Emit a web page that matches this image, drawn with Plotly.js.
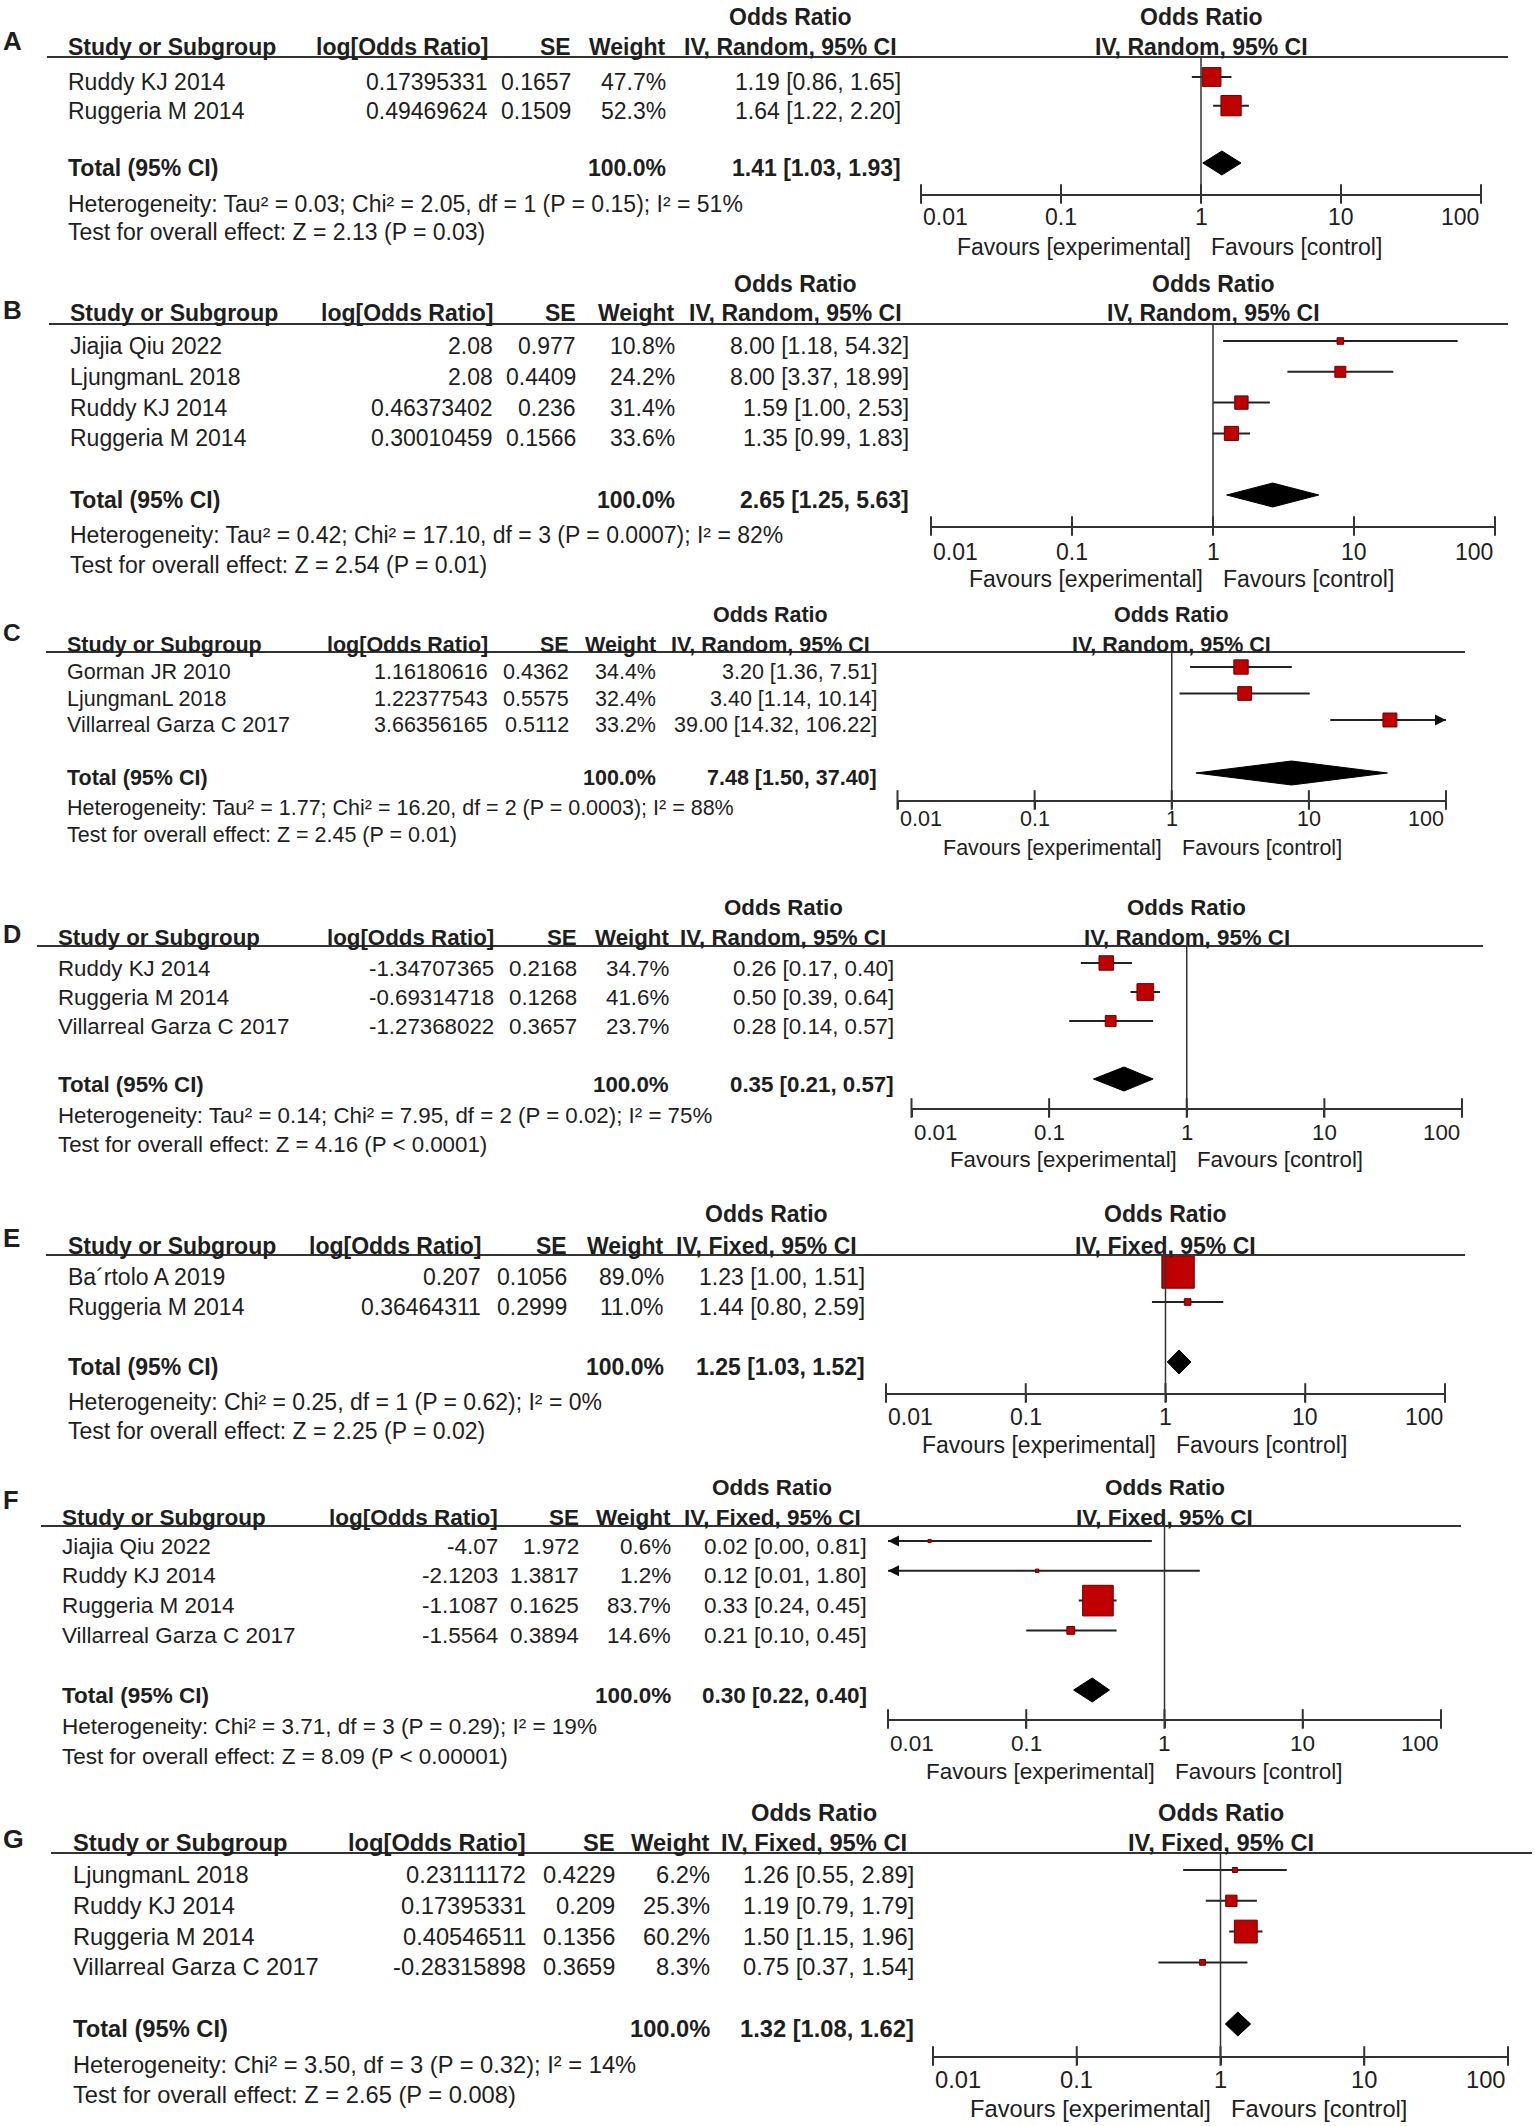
<!DOCTYPE html>
<html>
<head>
<meta charset="utf-8">
<script src="https://cdn.plot.ly/plotly-3.0.1.min.js"></script>
<style>html,body{margin:0;padding:0;background:#fff}</style>
</head>
<body>
<div id="chart" style="width:1535px;height:2126px"></div>
<script>
// ---------------- DATA ----------------
const tickVals = [0.01, 0.1, 1, 10, 100];
const tickText = ['0.01', '0.1', '1', '10', '100'];

// Panel A
const studiesA = ['Ruddy KJ 2014', 'Ruggeria M 2014'];
const logOrA = [0.17395331, 0.49469624];
const seA = [0.1657, 0.1509];
const weightA = [47.7, 52.3];
const orA = [1.19, 1.64];
const loA = [0.86, 1.22];
const hiA = [1.65, 2.20];
const totalA = [1.41, 1.03, 1.93];
const totalWeightA = 100.0;
const hetA = 'Heterogeneity: Tau² = 0.03; Chi² = 2.05, df = 1 (P = 0.15); I² = 51%';
const testA = 'Test for overall effect: Z = 2.13 (P = 0.03)';

// Panel B
const studiesB = ['Jiajia Qiu 2022', 'LjungmanL 2018', 'Ruddy KJ 2014', 'Ruggeria M 2014'];
const logOrB = [2.08, 2.08, 0.46373402, 0.30010459];
const seB = [0.977, 0.4409, 0.236, 0.1566];
const weightB = [10.8, 24.2, 31.4, 33.6];
const orB = [8.00, 8.00, 1.59, 1.35];
const loB = [1.18, 3.37, 1.00, 0.99];
const hiB = [54.32, 18.99, 2.53, 1.83];
const totalB = [2.65, 1.25, 5.63];
const totalWeightB = 100.0;
const hetB = 'Heterogeneity: Tau² = 0.42; Chi² = 17.10, df = 3 (P = 0.0007); I² = 82%';
const testB = 'Test for overall effect: Z = 2.54 (P = 0.01)';

// Panel C
const studiesC = ['Gorman JR 2010', 'LjungmanL 2018', 'Villarreal Garza C 2017'];
const logOrC = [1.16180616, 1.22377543, 3.66356165];
const seC = [0.4362, 0.5575, 0.5112];
const weightC = [34.4, 32.4, 33.2];
const orC = [3.20, 3.40, 39.00];
const loC = [1.36, 1.14, 14.32];
const hiC = [7.51, 10.14, 106.22];
const totalC = [7.48, 1.50, 37.40];
const totalWeightC = 100.0;
const hetC = 'Heterogeneity: Tau² = 1.77; Chi² = 16.20, df = 2 (P = 0.0003); I² = 88%';
const testC = 'Test for overall effect: Z = 2.45 (P = 0.01)';

// Panel D
const studiesD = ['Ruddy KJ 2014', 'Ruggeria M 2014', 'Villarreal Garza C 2017'];
const logOrD = [-1.34707365, -0.69314718, -1.27368022];
const seD = [0.2168, 0.1268, 0.3657];
const weightD = [34.7, 41.6, 23.7];
const orD = [0.26, 0.50, 0.28];
const loD = [0.17, 0.39, 0.14];
const hiD = [0.40, 0.64, 0.57];
const totalD = [0.35, 0.21, 0.57];
const totalWeightD = 100.0;
const hetD = 'Heterogeneity: Tau² = 0.14; Chi² = 7.95, df = 2 (P = 0.02); I² = 75%';
const testD = 'Test for overall effect: Z = 4.16 (P < 0.0001)';

// Panel E
const studiesE = ['Ba´rtolo A 2019', 'Ruggeria M 2014'];
const logOrE = [0.207, 0.36464311];
const seE = [0.1056, 0.2999];
const weightE = [89.0, 11.0];
const orE = [1.23, 1.44];
const loE = [1.00, 0.80];
const hiE = [1.51, 2.59];
const totalE = [1.25, 1.03, 1.52];
const totalWeightE = 100.0;
const hetE = 'Heterogeneity: Chi² = 0.25, df = 1 (P = 0.62); I² = 0%';
const testE = 'Test for overall effect: Z = 2.25 (P = 0.02)';

// Panel F
const studiesF = ['Jiajia Qiu 2022', 'Ruddy KJ 2014', 'Ruggeria M 2014', 'Villarreal Garza C 2017'];
const logOrF = [-4.07, -2.1203, -1.1087, -1.5564];
const seF = [1.972, 1.3817, 0.1625, 0.3894];
const weightF = [0.6, 1.2, 83.7, 14.6];
const orF = [0.02, 0.12, 0.33, 0.21];
const loF = [0.00, 0.01, 0.24, 0.10];
const hiF = [0.81, 1.80, 0.45, 0.45];
const totalF = [0.30, 0.22, 0.40];
const totalWeightF = 100.0;
const hetF = 'Heterogeneity: Chi² = 3.71, df = 3 (P = 0.29); I² = 19%';
const testF = 'Test for overall effect: Z = 8.09 (P < 0.00001)';

// Panel G
const studiesG = ['LjungmanL 2018', 'Ruddy KJ 2014', 'Ruggeria M 2014', 'Villarreal Garza C 2017'];
const logOrG = [0.23111172, 0.17395331, 0.40546511, -0.28315898];
const seG = [0.4229, 0.209, 0.1356, 0.3659];
const weightG = [6.2, 25.3, 60.2, 8.3];
const orG = [1.26, 1.19, 1.50, 0.75];
const loG = [0.55, 0.79, 1.15, 0.37];
const hiG = [2.89, 1.79, 1.96, 1.54];
const totalG = [1.32, 1.08, 1.62];
const totalWeightG = 100.0;
const hetG = 'Heterogeneity: Chi² = 3.50, df = 3 (P = 0.32); I² = 14%';
const testG = 'Test for overall effect: Z = 2.65 (P = 0.008)';

const panels = [
  {key:'A', model:'Random', names:studiesA, logOr:logOrA, se:seA, w:weightA, or:orA, lo:loA, hi:hiA, total:totalA, tw:totalWeightA, het:hetA, test:testA},
  {key:'B', model:'Random', names:studiesB, logOr:logOrB, se:seB, w:weightB, or:orB, lo:loB, hi:hiB, total:totalB, tw:totalWeightB, het:hetB, test:testB},
  {key:'C', model:'Random', names:studiesC, logOr:logOrC, se:seC, w:weightC, or:orC, lo:loC, hi:hiC, total:totalC, tw:totalWeightC, het:hetC, test:testC},
  {key:'D', model:'Random', names:studiesD, logOr:logOrD, se:seD, w:weightD, or:orD, lo:loD, hi:hiD, total:totalD, tw:totalWeightD, het:hetD, test:testD},
  {key:'E', model:'Fixed', names:studiesE, logOr:logOrE, se:seE, w:weightE, or:orE, lo:loE, hi:hiE, total:totalE, tw:totalWeightE, het:hetE, test:testE},
  {key:'F', model:'Fixed', names:studiesF, logOr:logOrF, se:seF, w:weightF, or:orF, lo:loF, hi:hiF, total:totalF, tw:totalWeightF, het:hetF, test:testF},
  {key:'G', model:'Fixed', names:studiesG, logOr:logOrG, se:seG, w:weightG, or:orG, lo:loG, hi:hiG, total:totalG, tw:totalWeightG, het:hetG, test:testG}
];

// ---------------- LAYOUT (pixel geometry) ----------------
const W = 1535, H = 2126;
const FONT = 'Liberation Sans, Arial, Helvetica, sans-serif';
const TXT = '#1e1e1e';
const LINE = '#333';
// c = [study left, logOR right, SE right, weight right, CI right, OR header centre]
const geo = {
  A:{letter:41,  orTop:17,   hdr:47,   line:57,   lx:[47,1508], row0:77,   tot:163,  axis:194,  het:204,  test:232,  tk:217,  fav:247,  x0:921,   x1:1481, c:[66,490,573,668,903,790], fs:23},
  B:{letter:310, orTop:284,  hdr:313,  line:324,  lx:[49,1508], row0:341,  tot:495,  axis:526,  het:535,  test:565,  tk:552,  fav:579,  x0:931,   x1:1495, c:[68,495,578,677,911,795], fs:23},
  C:{letter:632, orTop:615,  hdr:645,  line:652,  lx:[46,1465], row0:667,  tot:773,  axis:800,  het:808,  test:835,  tk:819,  fav:848,  x0:897.5, x1:1446, c:[65,490,571,658,879,770], fs:21.5},
  D:{letter:934, orTop:907,  hdr:937,  line:946,  lx:[37,1483], row0:963,  tot:1079, axis:1108, het:1115, test:1144, tk:1132, fav:1159, x0:911.5, x1:1462, c:[56,496,579,671,896,783], fs:22.3},
  E:{letter:1238,orTop:1214, hdr:1246, line:1255, lx:[46,1465], row0:1272, tot:1362, axis:1393, het:1402, test:1431, tk:1417, fav:1445, x0:886,   x1:1445, c:[66,483,569,666,867,766], fs:23},
  F:{letter:1500,orTop:1487, hdr:1517, line:1526, lx:[41,1461], row0:1541, tot:1690, axis:1719, het:1726, test:1756, tk:1743, fav:1771, x0:888,   x1:1441, c:[60,500,581,673,869,772], fs:22.5},
  G:{letter:1839,orTop:1813, hdr:1843, line:1853, lx:[51,1532], row0:1870, tot:2024, axis:2056, het:2065, test:2095, tk:2080, fav:2109, x0:933,   x1:1508, c:[71,528,617,712,916,814], fs:23.7}
};

const px = v => v / W;
const py = v => 1 - v / H;
const fmt2 = v => v.toFixed(2);
const ciText = (o, l, h) => fmt2(o) + ' [' + fmt2(l) + ', ' + fmt2(h) + ']';

const data = [];
const annotations = [];
const shapes = [];
const layout = {
  width: W, height: H,
  margin: {l:0, r:0, t:0, b:0},
  paper_bgcolor: '#ffffff',
  plot_bgcolor: 'rgba(0,0,0,0)',
  showlegend: false,
  font: {family: FONT, color: TXT},
  annotations: annotations,
  shapes: shapes
};

function ann(text, x, y, fs, extra) {
  annotations.push(Object.assign({
    text: text, x: x, y: y, xref: 'paper', yref: 'paper',
    showarrow: false, xanchor: 'left', yanchor: 'middle',
    font: {family: FONT, size: fs, color: TXT}
  }, extra || {}));
}

panels.forEach((p, k) => {
  const g = geo[p.key];
  const idx = k === 0 ? '' : String(k + 1);
  const xa = 'x' + idx, ya = 'y' + idx;
  const n = p.names.length;
  const s = (g.tot - g.row0) / (n + 1);      // px per row
  const yTop = -(g.row0 - g.line) / s;
  const yBot = (g.axis - g.row0) / s;
  const T = n + 1;                            // total row index
  const fs = g.fs;
  const rows = p.names.map((_, j) => j);

  layout['xaxis' + idx] = {
    type: 'log', range: [-2, 2], domain: [px(g.x0), px(g.x1)], anchor: ya,
    showline: true, linecolor: LINE, linewidth: 2,
    ticks: 'outside', ticklen: 7, tickwidth: 2, tickcolor: LINE,
    tickvals: tickVals, showticklabels: false,
    showgrid: false, zeroline: false, fixedrange: true
  };
  layout['yaxis' + idx] = {
    domain: [py(g.axis), py(g.line)], range: [yBot, yTop], anchor: xa,
    visible: false, showgrid: false, zeroline: false, fixedrange: true
  };

  // line of no effect
  shapes.push({type:'line', xref: xa, yref: ya + ' domain', x0: 1, x1: 1, y0: 0, y1: 1,
               line: {color: LINE, width: 1.5}});
  // header rule
  shapes.push({type:'line', xref:'paper', yref:'paper', x0: px(g.lx[0]), x1: px(g.lx[1]),
               y0: py(g.line), y1: py(g.line), line: {color: LINE, width: 2}});

  // CI whiskers (clamped to the axis range)
  const cx = [], cy = [];
  rows.forEach(j => {
    cx.push(Math.max(p.lo[j], 0.01), Math.min(p.hi[j], 100), null);
    cy.push(j, j, null);
  });
  data.push({type:'scatter', mode:'lines', x: cx, y: cy, xaxis: xa, yaxis: ya,
             line: {color: '#222', width: 2}, hoverinfo: 'skip'});

  // off-scale arrows
  const aLx = [], aLy = [], aRx = [], aRy = [];
  rows.forEach(j => {
    if (p.lo[j] <= 0.01) { aLx.push(0.01); aLy.push(j); }
    if (p.hi[j] >= 100) { aRx.push(100); aRy.push(j); }
  });
  if (aLx.length) data.push({type:'scatter', mode:'markers', x: aLx, y: aLy, xaxis: xa, yaxis: ya,
             marker: {symbol: 'arrow-left', size: 11, color: '#111', opacity: 1}, cliponaxis: false, hoverinfo: 'skip'});
  if (aRx.length) data.push({type:'scatter', mode:'markers', x: aRx, y: aRy, xaxis: xa, yaxis: ya,
             marker: {symbol: 'arrow-right', size: 11, color: '#111', opacity: 1}, cliponaxis: false, hoverinfo: 'skip'});

  // study squares (size grows with weight)
  data.push({type:'scatter', mode:'markers', x: p.or, y: rows, xaxis: xa, yaxis: ya,
             marker: {symbol: 'square', size: p.w.map(v => 3 + 0.33 * v), color: '#c00000', opacity: 1,
                      line: {color: '#6e0000', width: 1}},
             cliponaxis: false, hoverinfo: 'skip'});

  // pooled diamond
  const h = 12 / s;
  const t = p.total;
  data.push({type:'scatter', mode:'lines', x: [t[1], t[0], t[2], t[0], t[1]], y: [T, T - h, T, T + h, T],
             xaxis: xa, yaxis: ya, fill: 'toself', fillcolor: '#000', line: {color: '#000', width: 1},
             hoverinfo: 'skip'});

  // tick crosses (upper half of the ticks)
  data.push({type:'scatter', mode:'markers', x: tickVals, y: tickVals.map(() => yBot), xaxis: xa, yaxis: ya,
             marker: {symbol: 'line-ns', size: 14, line: {width: 2, color: LINE}},
             cliponaxis: false, hoverinfo: 'skip'});

  // tick labels: the end labels sit inside the axis, as in the original
  tickVals.forEach((v, i) => {
    const anchor = i === 0 ? 'left' : (i === tickVals.length - 1 ? 'right' : 'center');
    ann(tickText[i], Math.log10(v), py(g.tk), fs, {xref: xa, xanchor: anchor});
  });

  // ---- text ----
  ann('<b>' + p.key + '</b>', px(1), py(g.letter), fs + 3);
  // headers
  ann('<b>Odds Ratio</b>', px(g.c[5]), py(g.orTop), fs, {xanchor: 'center'});
  ann('<b>Study or Subgroup</b>', px(g.c[0]), py(g.hdr), fs);
  ann('<b>log[Odds Ratio]</b>', px(g.c[1]), py(g.hdr), fs, {xanchor: 'right'});
  ann('<b>SE</b>', px(g.c[2]), py(g.hdr), fs, {xanchor: 'right'});
  ann('<b>Weight</b>', px(g.c[3]), py(g.hdr), fs, {xanchor: 'right'});
  ann('<b>IV, ' + p.model + ', 95% CI</b>', px(g.c[5]), py(g.hdr), fs, {xanchor: 'center'});
  ann('<b>Odds Ratio</b>', 0, py(g.orTop), fs, {xref: xa, xanchor: 'center'});
  ann('<b>IV, ' + p.model + ', 95% CI</b>', 0, py(g.hdr), fs, {xref: xa, xanchor: 'center'});

  // study rows
  rows.forEach(j => {
    const rowOpt = (anchor) => ({yref: ya, xanchor: anchor, yshift: -5});
    ann(p.names[j], px(g.c[0]), j, fs, rowOpt('left'));
    ann(String(p.logOr[j]), px(g.c[1]), j, fs, rowOpt('right'));
    ann(String(p.se[j]), px(g.c[2]), j, fs, rowOpt('right'));
    ann(p.w[j].toFixed(1) + '%', px(g.c[3]), j, fs, rowOpt('right'));
    ann(ciText(p.or[j], p.lo[j], p.hi[j]), px(g.c[4]), j, fs, rowOpt('right'));
  });
  // total row
  ann('<b>Total (95% CI)</b>', px(g.c[0]), T, fs, {yref: ya, yshift: -5});
  ann('<b>' + p.tw.toFixed(1) + '%</b>', px(g.c[3]), T, fs, {yref: ya, yshift: -5, xanchor: 'right'});
  ann('<b>' + ciText(t[0], t[1], t[2]) + '</b>', px(g.c[4]), T, fs, {yref: ya, yshift: -5, xanchor: 'right'});
  // heterogeneity / overall effect
  ann(p.het, px(g.c[0]), py(g.het), fs);
  ann(p.test, px(g.c[0]), py(g.test), fs);
  // favours
  ann('Favours [experimental]', 0, py(g.fav), fs, {xref: xa, xanchor: 'right', xshift: -8});
  ann('Favours [control]', 0, py(g.fav), fs, {xref: xa, xanchor: 'left', xshift: 8});
});

Plotly.newPlot('chart', data, layout, {displayModeBar: false, staticPlot: true});
</script>
</body>
</html>
